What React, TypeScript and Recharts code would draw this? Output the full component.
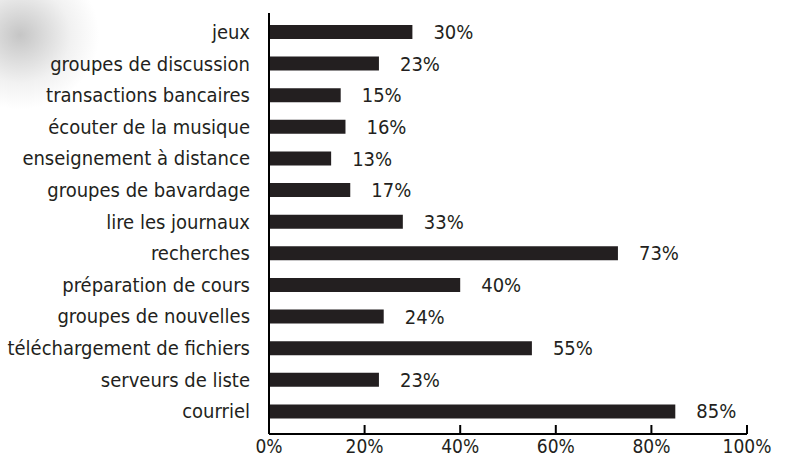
import React from 'react';
import { BarChart, Bar, XAxis, YAxis, LabelList } from 'recharts';

const categories = [
  'jeux',
  'groupes de discussion',
  'transactions bancaires',
  'écouter de la musique',
  'enseignement à distance',
  'groupes de bavardage',
  'lire les journaux',
  'recherches',
  'préparation de cours',
  'groupes de nouvelles',
  'téléchargement de fichiers',
  'serveurs de liste',
  'courriel',
];

// bar lengths as drawn
const values = [30, 23, 15, 16, 13, 17, 28, 73, 40, 24, 55, 23, 85];
// printed labels (the "lire les journaux" label differs from its bar)
const printed = ['30%', '23%', '15%', '16%', '13%', '17%', '33%', '73%', '40%', '24%', '55%', '23%', '85%'];

const xTicks = [0, 20, 40, 60, 80, 100];

const data = categories.map((name, i) => ({ name, value: values[i], label: printed[i] }));

const FONT = '"Liberation Sans Narrow", "DejaVu Sans Condensed", "Roboto Condensed", sans-serif';
const INK = '#231f20';

export default function App() {
  return (
    <div style={{ position: 'absolute', left: 0, top: 0, width: 786, height: 460, background: '#fff', overflow: 'hidden' }}>
      {/* soft grey smudge at the top-left corner of the scan */}
      <div
        style={{
          position: 'absolute', left: -60, top: -40, width: 160, height: 150,
          background: 'radial-gradient(ellipse at center, rgba(150,150,150,0.55) 0%, rgba(200,200,200,0.25) 45%, rgba(255,255,255,0) 70%)',
        }}
      />
      <BarChart
        width={786}
        height={460}
        data={data}
        layout="vertical"
        margin={{ top: 13, right: 39, bottom: 0, left: 0 }}
        style={{ position: 'absolute', left: 0, top: 0, fontFamily: FONT }}
      >
        <XAxis
          type="number"
          domain={[0, 100]}
          ticks={xTicks}
          tickFormatter={(v) => `${v}%`}
          height={26}
          axisLine={{ stroke: '#000', strokeWidth: 2 }}
          tickLine={{ stroke: '#000', strokeWidth: 2 }}
          tickSize={-9}
          tickMargin={15}
          tick={{ fill: INK, fontSize: 19, fontFamily: FONT }}
          interval={0}
        />
        <YAxis
          type="category"
          dataKey="name"
          width={269}
          padding={{ top: 3, bottom: 7 }}
          axisLine={{ stroke: '#000', strokeWidth: 2 }}
          tickLine={false}
          tickSize={0}
          tickMargin={19}
          tick={{ fill: INK, fontSize: 20, fontFamily: FONT }}
          interval={0}
        />
        <Bar dataKey="value" fill={INK} barSize={14} isAnimationActive={false}>
          <LabelList dataKey="label" position="right" offset={21} fill={INK} fontSize={20} fontFamily={FONT} />
        </Bar>
      </BarChart>
    </div>
  );
}
